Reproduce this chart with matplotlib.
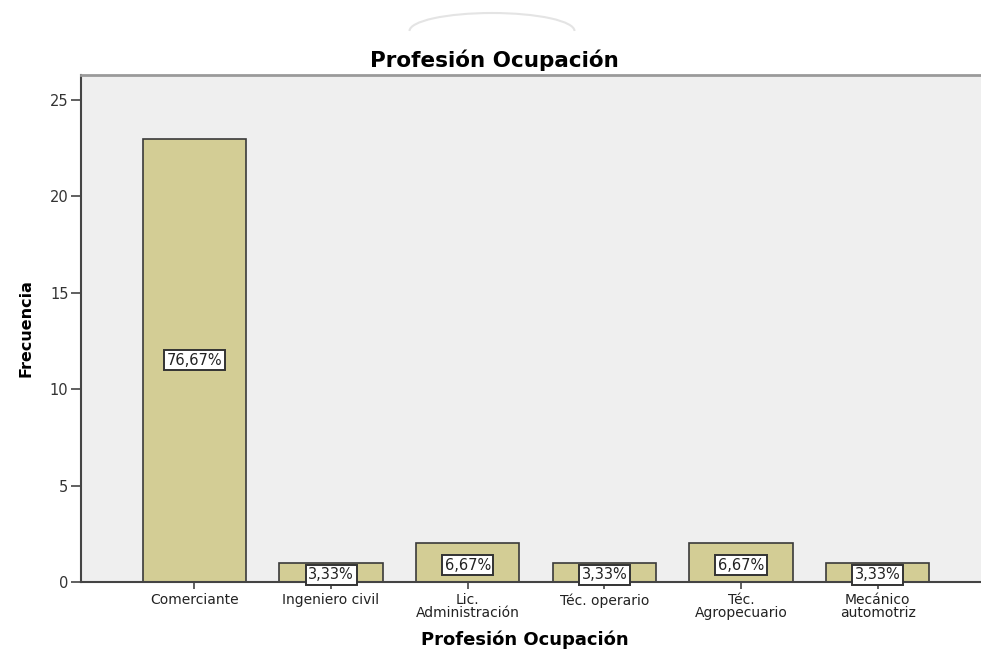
import matplotlib
matplotlib.use("Agg")
import matplotlib.pyplot as plt
from matplotlib.patches import Arc

plt.rcParams['font.family'] = ['DejaVu Sans']

# data
categorias = ["Comerciante", "Ingeniero civil", "Lic.\nAdministración",
              "Téc. operario", "Téc.\nAgropecuario", "Mecánico\nautomotriz"]
frecuencia = [23, 1, 2, 1, 2, 1]
porcentajes = ["76,67%", "3,33%", "6,67%", "3,33%", "6,67%", "3,33%"]

fig = plt.figure(figsize=(9.81, 6.55), dpi=100)
ax = fig.add_axes([81/981, 73/655, 910/981, 507/655])
ax.set_facecolor("#efefef")

x = range(len(categorias))
ax.bar(x, frecuencia, width=0.755, color="#d3cd95", edgecolor="#3a3a3a", linewidth=1.2, zorder=2)

# percentage labels in white boxes
for i, (f, p) in enumerate(zip(frecuencia, porcentajes)):
    yy = f / 2 - (0.12 if f < 3 else 0)
    ax.text(i, yy, p, ha="center", va="center", fontsize=10.5, color="#222222",
            zorder=3, bbox=dict(boxstyle="square,pad=0.18", facecolor="white", edgecolor="#333333", linewidth=1.4))

ax.set_xlim(-0.83, 5.83)
ax.set_ylim(0, 26.3)
ax.set_yticks([0, 5, 10, 15, 20, 25])
ax.set_xticks(list(x))
ax.set_xticklabels(categorias, fontsize=10, linespacing=0.9)
ax.tick_params(axis="y", direction="out", length=7.5, width=1.2, color="#444444", labelsize=10.5, labelcolor="#333333", pad=1.5)
ax.tick_params(axis="x", direction="out", length=5, width=1.2, color="#444444", pad=3, labelcolor="#222222")

for s in ["left", "bottom"]:
    ax.spines[s].set_color("#444444")
    ax.spines[s].set_linewidth(1.5)
ax.spines["top"].set_color("#9a9a9a")
ax.spines["top"].set_linewidth(2)
ax.spines["right"].set_visible(False)

fig.text(525/981, 1 - 640/655, "Profesión Ocupación", ha="center", va="center", fontsize=13, fontweight="bold")
ax.set_ylabel("Frecuencia", fontsize=11.5, fontweight="bold", labelpad=12)
fig.text(494/981, 1 - 60/655, "Profesión Ocupación", ha="center", va="center", fontsize=15.5, fontweight="bold")

# faint arc decoration at the top
arc = Arc((492/981, 1 - 31/655), 165/981, 36/655, theta1=0, theta2=180,
          transform=fig.transFigure, color="#e4e4e4", linewidth=1.5)
fig.patches.append(arc)

fig.savefig("out.png", dpi=100)
